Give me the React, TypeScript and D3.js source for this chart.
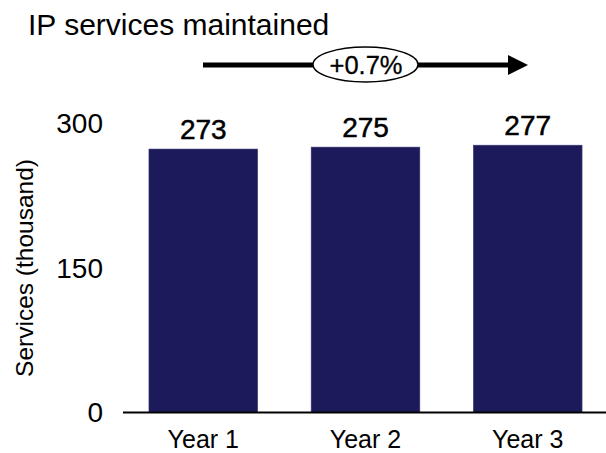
import React from 'react';
import * as d3 from 'd3';

const years = ['Year 1', 'Year 2', 'Year 3'];
const services = [273, 275, 277];
const yTicks = [0, 150, 300];
const growthLabel = '+0.7%';

const App: React.FC = () => {
  const width = 606;
  const height = 453;
  const font = '"Liberation Sans", Arial, sans-serif';

  const x = d3.scaleBand<string>()
    .domain(years)
    .range([123, 608])
    .paddingInner(0.33)
    .paddingOuter(0.16);

  const y = d3.scaleLinear()
    .domain([0, 300])
    .range([412.5, 123]);

  // arrow above the bars
  const arrowY = 65;
  const arrowStart = 203;
  const arrowEnd = 528;

  return (
    <svg width={width} height={height}
      style={{ position: 'absolute', left: 0, top: 0, background: '#fff' }}
      fontFamily={font}>
      <text x={28} y={35} fontSize={30} fill="#000">IP services maintained</text>

      {/* growth arrow */}
      <line x1={arrowStart} y1={arrowY} x2={arrowEnd - 18} y2={arrowY}
        stroke="#000" strokeWidth={5} />
      <path d={`M${arrowEnd - 20},${arrowY - 10} L${arrowEnd},${arrowY} L${arrowEnd - 20},${arrowY + 10} Z`}
        fill="#000" />
      <ellipse cx={365.5} cy={64.5} rx={52.5} ry={17.5} fill="#fff" stroke="#000" strokeWidth={1.5} />
      <text x={366} y={73.5} fontSize={25.5} textAnchor="middle" fill="#000" stroke="#000" strokeWidth={0.3}>{growthLabel}</text>

      {/* y axis labels */}
      {yTicks.map(t => (
        <text key={t} x={103} y={y(t)} dy="0.35em" fontSize={28} textAnchor="end" fill="#000">{t}</text>
      ))}
      <text transform={`translate(33,268) rotate(-90)`} fontSize={24.5} textAnchor="middle" fill="#000">
        Services (thousand)
      </text>

      {/* bars */}
      {services.map((v, i) => (
        <g key={years[i]}>
          <rect x={x(years[i])} y={y(v)} width={x.bandwidth()} height={y(0) - y(v)}
            fill="#1c1a5a" stroke="#3b3a70" strokeWidth={0.6} />
          <text x={(x(years[i]) as number) + x.bandwidth() / 2} y={y(v) - 10}
            fontSize={28} textAnchor="middle" fill="#000" stroke="#000" strokeWidth={0.5}>{v}</text>
          <text x={(x(years[i]) as number) + x.bandwidth() / 2} y={448}
            fontSize={25} textAnchor="middle" fill="#000">{years[i]}</text>
        </g>
      ))}

      <line x1={123} x2={606} y1={y(0)} y2={y(0)} stroke="#000" strokeWidth={2} />
    </svg>
  );
};

export default App;
